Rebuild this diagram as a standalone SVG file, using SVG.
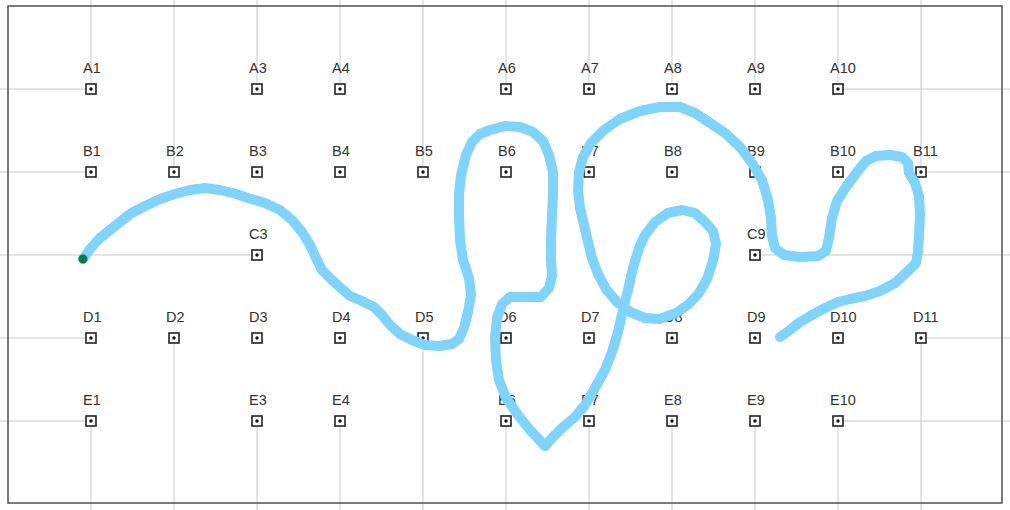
<svg xmlns="http://www.w3.org/2000/svg" xmlns:xlink="http://www.w3.org/1999/xlink" width="1010" height="510" viewBox="0 0 1010 510">
<style>
.grid line{stroke:#c9c9c9;stroke-width:1}
.lbl{font-family:"Liberation Sans",Arial,sans-serif;font-size:14.5px;fill:#333}
.route{fill:none;stroke:#80d3fa;stroke-width:10;stroke-linecap:round;stroke-linejoin:round}
</style>
<defs>
<g id="mk"><rect x="-5" y="-5" width="10" height="10" fill="#fff" stroke="#222" stroke-width="1.6"/><circle r="1.7" fill="#111"/></g>
</defs>
<rect width="1010" height="510" fill="#fff"/>
<g id="connectors" class="grid">
<line x1="91" y1="0" x2="91" y2="89"/><line x1="174" y1="0" x2="174" y2="172"/><line x1="257" y1="0" x2="257" y2="89"/><line x1="340" y1="0" x2="340" y2="89"/><line x1="423" y1="0" x2="423" y2="172"/><line x1="506" y1="0" x2="506" y2="89"/><line x1="589" y1="0" x2="589" y2="89"/><line x1="672" y1="0" x2="672" y2="89"/><line x1="755" y1="0" x2="755" y2="89"/><line x1="838" y1="0" x2="838" y2="89"/><line x1="921" y1="0" x2="921" y2="172"/>
<line x1="91" y1="421" x2="91" y2="510"/><line x1="174" y1="338" x2="174" y2="510"/><line x1="257" y1="421" x2="257" y2="510"/><line x1="340" y1="421" x2="340" y2="510"/><line x1="423" y1="338" x2="423" y2="510"/><line x1="506" y1="421" x2="506" y2="510"/><line x1="589" y1="421" x2="589" y2="510"/><line x1="672" y1="421" x2="672" y2="510"/><line x1="755" y1="421" x2="755" y2="510"/><line x1="838" y1="421" x2="838" y2="510"/><line x1="921" y1="338" x2="921" y2="510"/>
<line x1="0" y1="89" x2="91" y2="89"/><line x1="0" y1="172" x2="91" y2="172"/><line x1="0" y1="255" x2="257" y2="255"/><line x1="0" y1="338" x2="91" y2="338"/><line x1="0" y1="421" x2="91" y2="421"/>
<line x1="838" y1="89" x2="1010" y2="89"/><line x1="921" y1="172" x2="1010" y2="172"/><line x1="755" y1="255" x2="1010" y2="255"/><line x1="921" y1="338" x2="1010" y2="338"/><line x1="838" y1="421" x2="1010" y2="421"/>
</g>
<rect x="8" y="6" width="994" height="497" fill="none" stroke="#444" stroke-width="1.4"/>
<g id="A1"><use xlink:href="#mk" x="91" y="89"/><text class="lbl" x="83" y="73">A1</text></g>
<g id="A3"><use xlink:href="#mk" x="257" y="89"/><text class="lbl" x="249" y="73">A3</text></g>
<g id="A4"><use xlink:href="#mk" x="340" y="89"/><text class="lbl" x="332" y="73">A4</text></g>
<g id="A6"><use xlink:href="#mk" x="506" y="89"/><text class="lbl" x="498" y="73">A6</text></g>
<g id="A7"><use xlink:href="#mk" x="589" y="89"/><text class="lbl" x="581" y="73">A7</text></g>
<g id="A8"><use xlink:href="#mk" x="672" y="89"/><text class="lbl" x="664" y="73">A8</text></g>
<g id="A9"><use xlink:href="#mk" x="755" y="89"/><text class="lbl" x="747" y="73">A9</text></g>
<g id="A10"><use xlink:href="#mk" x="838" y="89"/><text class="lbl" x="830" y="73">A10</text></g>
<g id="B1"><use xlink:href="#mk" x="91" y="172"/><text class="lbl" x="83" y="156">B1</text></g>
<g id="B2"><use xlink:href="#mk" x="174" y="172"/><text class="lbl" x="166" y="156">B2</text></g>
<g id="B3"><use xlink:href="#mk" x="257" y="172"/><text class="lbl" x="249" y="156">B3</text></g>
<g id="B4"><use xlink:href="#mk" x="340" y="172"/><text class="lbl" x="332" y="156">B4</text></g>
<g id="B5"><use xlink:href="#mk" x="423" y="172"/><text class="lbl" x="415" y="156">B5</text></g>
<g id="B6"><use xlink:href="#mk" x="506" y="172"/><text class="lbl" x="498" y="156">B6</text></g>
<g id="B7"><use xlink:href="#mk" x="589" y="172"/><text class="lbl" x="581" y="156">B7</text></g>
<g id="B8"><use xlink:href="#mk" x="672" y="172"/><text class="lbl" x="664" y="156">B8</text></g>
<g id="B9"><use xlink:href="#mk" x="755" y="172"/><text class="lbl" x="747" y="156">B9</text></g>
<g id="B10"><use xlink:href="#mk" x="838" y="172"/><text class="lbl" x="830" y="156">B10</text></g>
<g id="B11"><use xlink:href="#mk" x="921" y="172"/><text class="lbl" x="913" y="156">B11</text></g>
<g id="C3"><use xlink:href="#mk" x="257" y="255"/><text class="lbl" x="249" y="239">C3</text></g>
<g id="C9"><use xlink:href="#mk" x="755" y="255"/><text class="lbl" x="747" y="239">C9</text></g>
<g id="D1"><use xlink:href="#mk" x="91" y="338"/><text class="lbl" x="83" y="322">D1</text></g>
<g id="D2"><use xlink:href="#mk" x="174" y="338"/><text class="lbl" x="166" y="322">D2</text></g>
<g id="D3"><use xlink:href="#mk" x="257" y="338"/><text class="lbl" x="249" y="322">D3</text></g>
<g id="D4"><use xlink:href="#mk" x="340" y="338"/><text class="lbl" x="332" y="322">D4</text></g>
<g id="D5"><use xlink:href="#mk" x="423" y="338"/><text class="lbl" x="415" y="322">D5</text></g>
<g id="D6"><use xlink:href="#mk" x="506" y="338"/><text class="lbl" x="498" y="322">D6</text></g>
<g id="D7"><use xlink:href="#mk" x="589" y="338"/><text class="lbl" x="581" y="322">D7</text></g>
<g id="D8"><use xlink:href="#mk" x="672" y="338"/><text class="lbl" x="664" y="322">D8</text></g>
<g id="D9"><use xlink:href="#mk" x="755" y="338"/><text class="lbl" x="747" y="322">D9</text></g>
<g id="D10"><use xlink:href="#mk" x="838" y="338"/><text class="lbl" x="830" y="322">D10</text></g>
<g id="D11"><use xlink:href="#mk" x="921" y="338"/><text class="lbl" x="913" y="322">D11</text></g>
<g id="E1"><use xlink:href="#mk" x="91" y="421"/><text class="lbl" x="83" y="405">E1</text></g>
<g id="E3"><use xlink:href="#mk" x="257" y="421"/><text class="lbl" x="249" y="405">E3</text></g>
<g id="E4"><use xlink:href="#mk" x="340" y="421"/><text class="lbl" x="332" y="405">E4</text></g>
<g id="E6"><use xlink:href="#mk" x="506" y="421"/><text class="lbl" x="498" y="405">E6</text></g>
<g id="E7"><use xlink:href="#mk" x="589" y="421"/><text class="lbl" x="581" y="405">E7</text></g>
<g id="E8"><use xlink:href="#mk" x="672" y="421"/><text class="lbl" x="664" y="405">E8</text></g>
<g id="E9"><use xlink:href="#mk" x="755" y="421"/><text class="lbl" x="747" y="405">E9</text></g>
<g id="E10"><use xlink:href="#mk" x="838" y="421"/><text class="lbl" x="830" y="405">E10</text></g>
<g id="route">
<polyline class="route" points="83,259 90,249 100,238 115,226 130,214 145,206 160,199 175,194 190,190 205,188 220,190 233,193 248,198 265,203 280,210 292,220 302,232 310,245 316,258 322,270 332,280 342,289 350,296 362,301 374,307 382,315 390,325 400,334 412,340 425,345 440,346 452,344 459,339 464,328 468,312 471,295 469,278 463,260 460,240 459,215 459,195 461,175 466,155 472,142 480,134 490,130 505,126 520,127 533,132 543,141 549,155 553,172 553,195 552,215 551,240 551,260 552,276 549,288 541,297 525,297 510,297 502,304 497,318 495,338 496,360 499,380 506,398 518,415 530,430 545,446 552,438 562,428 575,417 585,405 595,388 605,370 612,352 618,332 623,310 628,290 633,268 639,248 645,235 655,222 668,213 682,210 695,213 705,222 713,231 716,244 713,261 707,279 699,293 689,304 676,313 660,319 645,318 630,312 617,302 606,289 598,274 592,258 588,242 584,225 580,208 578,190 579,172 583,157 591,143 604,130 620,119 640,111 660,107 680,107 695,113 710,123 725,133 740,147 752,163 762,180 768,200 771,218 772,236 775,248 784,255 800,257 818,256 826,251 829,238 832,218 837,201 846,187 857,172 866,161 876,156 890,155 902,157 908,163 909,173 915,183 919,196 920,215 919,235 918,252 916,263 907,272 895,283 880,291 865,296 850,299 838,302 825,308 812,315 800,322 790,330 780,337"/>
<circle cx="83" cy="259" r="4.5" fill="#0b7a4e"/>
</g>
</svg>
